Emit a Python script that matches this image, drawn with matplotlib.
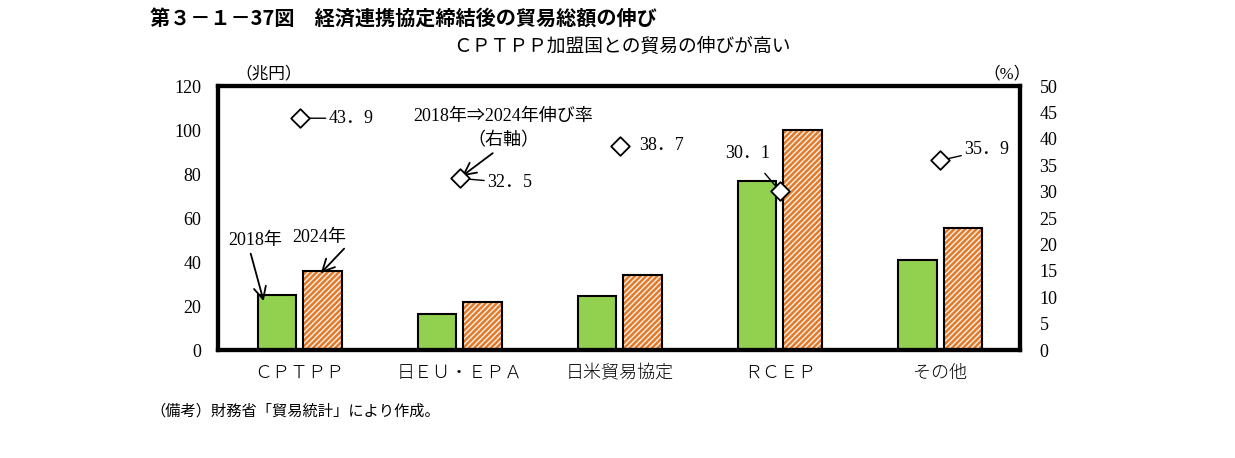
import numpy as np
import matplotlib.pyplot as plt

plt.rcParams['font.family'] = ['Liberation Serif', 'Noto Sans CJK JP']
plt.rcParams['hatch.linewidth'] = 1.8

categories = ['ＣＰＴＰＰ', '日ＥＵ・ＥＰＡ', '日米貿易協定', 'ＲＣＥＰ', 'その他']
trade_2018 = [25.0, 16.4, 24.5, 76.9, 40.7]
trade_2024 = [36.0, 21.8, 34.0, 100.0, 55.3]
growth = [43.9, 32.5, 38.7, 30.1, 35.9]

fig = plt.figure(figsize=(12.35, 4.58), dpi=100)
ax = fig.add_axes([0.1765, 0.2358, 0.6495, 0.5764])
ax2 = ax.twinx()

x = np.arange(len(categories))
w = 0.24
ax.bar(x - 0.142, trade_2018, w, color='#92d050', edgecolor='black', linewidth=1.5, zorder=2)
# hatch colour follows edgecolor, so draw stripes first and the black outline on top
ax.bar(x + 0.142, trade_2024, w, color='#fdf0e4', edgecolor='#e07b2e', linewidth=0,
       hatch='//////', zorder=2)
ax.bar(x + 0.142, trade_2024, w, color='none', edgecolor='black', linewidth=1.5, zorder=3)
ax.set_xlim(-0.51, 4.5)
ax.set_ylim(0, 120)
ax.set_yticks(range(0, 121, 20))
ax.set_xticks(x)
ax.set_xticklabels(categories, fontsize=13, family=['Noto Sans CJK JP'], fontweight='light')
ax.tick_params(axis='x', length=0, pad=10)
ax.tick_params(axis='y', length=0, labelsize=13, pad=12)

ax2.scatter(x, growth, marker='D', s=90, facecolor='white', edgecolor='black', linewidth=1.3, zorder=5)
ax2.set_ylim(0, 50)
ax2.set_yticks(range(0, 51, 5))
ax2.tick_params(axis='y', length=0, labelsize=13, pad=14)
ax2.set_zorder(ax.get_zorder() + 1)

for a in (ax, ax2):
    for s in a.spines.values():
        s.set_linewidth(3)


def fmt(v):
    return f'{v}'.replace('.', '．')


# diamond value labels
lab = dict(fontsize=13, va='center')
ax2.annotate(fmt(growth[0]), xy=(0, growth[0]), xytext=(0.18, growth[0]), **lab,
             arrowprops=dict(arrowstyle='-', lw=1, shrinkA=0, shrinkB=4))
ax2.annotate(fmt(growth[1]), xy=(1, growth[1]), xytext=(1.17, growth[1] - 0.8), **lab,
             arrowprops=dict(arrowstyle='-', lw=1, shrinkA=0, shrinkB=2))
ax2.text(2.12, growth[2], fmt(growth[2]), **lab)
ax2.annotate(fmt(growth[3]), xy=(3, growth[3]), xytext=(2.8, 37.2), ha='center', **lab,
             arrowprops=dict(arrowstyle='-', lw=1, shrinkA=8, shrinkB=0))
ax2.annotate(fmt(growth[4]), xy=(4, growth[4]), xytext=(4.15, 37.9), **lab,
             arrowprops=dict(arrowstyle='-', lw=1, shrinkA=0, shrinkB=2))

ax2.text(1.27, 44.2, '2018年⇒2024年伸び率', fontsize=13, ha='center', va='center')
ax2.text(1.27, 39.6, '（右軸）', fontsize=13, ha='center', va='center')
ax2.annotate('', xy=(1.0, 32.6), xytext=(1.22, 37.6),
             arrowprops=dict(arrowstyle='->', lw=1.3, mutation_scale=22))

ax.text(-0.28, 50, '2018年', fontsize=13, ha='center', va='center')
ax.annotate('', xy=(-0.22, 21), xytext=(-0.31, 45),
            arrowprops=dict(arrowstyle='->', lw=1.3, mutation_scale=22))
ax.text(0.12, 51, '2024年', fontsize=13, ha='center', va='center')
ax.annotate('', xy=(0.12, 34), xytext=(0.29, 47),
            arrowprops=dict(arrowstyle='->', lw=1.3, mutation_scale=22))

fig.text(235 / 1235, 1 - 74 / 458, '（兆円）', fontsize=12, va='center')
fig.text(983 / 1235, 1 - 74 / 458, '（%）', fontsize=12, va='center')

fig.text(150 / 1235, 1 - 18 / 458, '第３－１－37図　経済連携協定締結後の貿易総額の伸び',
         fontsize=14.5, fontweight='bold', family=['Noto Sans CJK JP'], va='center')
fig.text(622 / 1235, 1 - 46 / 458, 'ＣＰＴＰＰ加盟国との貿易の伸びが高い',
         fontsize=13.5, family=['Noto Sans CJK JP'], va='center', ha='center')
fig.text(150 / 1235, 1 - 411 / 458, '（備考）財務省「貿易統計」により作成。',
         fontsize=11, family=['Noto Sans CJK JP'], va='center')

fig.savefig('out.png', dpi=100)
